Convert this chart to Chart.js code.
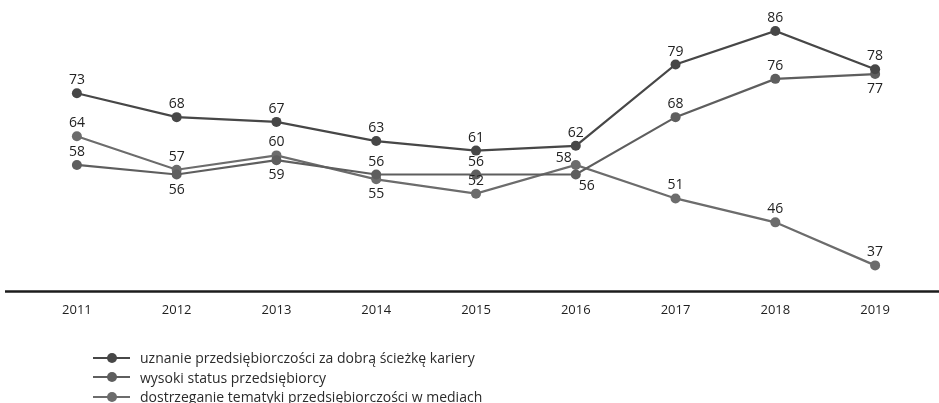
<!DOCTYPE html>
<html lang="pl">
<head>
<meta charset="utf-8">
<title>Postrzeganie przedsiębiorczości 2011–2019</title>
<script src="https://cdn.jsdelivr.net/npm/chart.js@4.4.1/dist/chart.umd.min.js"></script>
<style>
  html, body { margin: 0; padding: 0; background: #ffffff; }
  #wrap { position: relative; width: 939px; height: 403px; overflow: hidden; }
  #chart { position: absolute; left: 0; top: 0; }
  #legend { position: absolute; left: 93px; top: 348px; margin: 0; padding: 0; list-style: none;
            font-family: "Open Sans", "DejaVu Sans", sans-serif; font-size: 14px; color: #2b2b2b; }
  #legend li { height: 19.5px; line-height: 19.5px; display: flex; align-items: center; white-space: nowrap; }
  #legend .mk { position: relative; width: 37px; height: 10px; margin-right: 10px; flex: none; }
  #legend .mk i { position: absolute; left: 0; right: 0; top: 4px; height: 2px; }
  #legend .mk b { position: absolute; left: 14px; top: 0; width: 10px; height: 10px; border-radius: 50%; }
</style>
</head>
<body>
<div id="wrap">
  <canvas id="chart" width="939" height="403"></canvas>
  <ul id="legend"></ul>
</div>
<script>
// Lata badania
const years = ['2011', '2012', '2013', '2014', '2015', '2016', '2017', '2018', '2019'];

// Odsetek wskazań (%)
const careerChoice = [73, 68, 67, 63, 61, 62, 79, 86, 78];
const highStatus   = [58, 56, 59, 56, 56, 56, 68, 76, 77];
const mediaAttention = [64, 57, 60, 55, 52, 58, 51, 46, 37];

const seriesNames = [
  'uznanie przedsiębiorczości za dobrą ścieżkę kariery',
  'wysoki status przedsiębiorcy',
  'dostrzeganie tematyki przedsiębiorczości w mediach'
];

// Kolory serii
const seriesColors = ['#474747', '#5e5e5e', '#6c6c6c'];

// Położenie etykiet wartości: a = nad punktem, b = pod, l = nad z lewej, r = pod z prawej
const labelSpots = [
  ['a', 'a', 'a', 'a', 'a', 'a', 'a', 'a', 'a'],
  ['a', 'b', 'b', 'a', 'a', 'r', 'a', 'a', 'b'],
  ['a', 'a', 'a', 'b', 'a', 'l', 'a', 'a', 'a']
];

const valueLabels = {
  id: 'valueLabels',
  afterDatasetsDraw(chart) {
    const ctx = chart.ctx;
    ctx.save();
    ctx.font = '14px "Open Sans", "DejaVu Sans", sans-serif';
    ctx.fillStyle = '#222222';
    ctx.textAlign = 'center';
    ctx.textBaseline = 'middle';
    chart.data.datasets.forEach((ds, di) => {
      const meta = chart.getDatasetMeta(di);
      meta.data.forEach((pt, i) => {
        const spot = labelSpots[di][i];
        let dx = 0, dy = -13;
        if (spot === 'b') dy = 15;
        if (spot === 'l') { dx = -12; dy = -7; }
        if (spot === 'r') { dx = 11; dy = 11; }
        ctx.fillText(String(ds.data[i]), pt.x + dx, pt.y + dy);
      });
    });
    ctx.restore();
  }
};

// Pozioma linia osi kategorii na całą szerokość
const baseLine = {
  id: 'baseLine',
  beforeDatasetsDraw(chart) {
    const ctx = chart.ctx;
    const y = chart.chartArea.bottom;
    ctx.save();
    ctx.strokeStyle = '#1c1c1c';
    ctx.lineWidth = 2.5;
    ctx.beginPath();
    ctx.moveTo(5, y);
    ctx.lineTo(939, y);
    ctx.stroke();
    ctx.restore();
  }
};

const seriesValues = [careerChoice, highStatus, mediaAttention];

const chart = new Chart(document.getElementById('chart'), {
  type: 'line',
  data: {
    labels: years,
    datasets: seriesValues.map((vals, k) => ({
      label: seriesNames[k],
      data: vals,
      borderColor: seriesColors[k],
      backgroundColor: seriesColors[k],
      pointBackgroundColor: seriesColors[k],
      pointBorderWidth: 0,
      pointRadius: 5,
      borderWidth: 2.2,
      tension: 0,
      fill: false
    }))
  },
  options: {
    responsive: false,
    animation: false,
    events: [],
    layout: { padding: { left: 27, right: 14, top: 10, bottom: 74 } },
    plugins: {
      legend: { display: false },
      tooltip: { enabled: false }
    },
    scales: {
      x: {
        offset: true,
        grid: { display: false, drawTicks: false },
        border: { display: false },
        ticks: {
          padding: 11,
          color: '#1e1e1e',
          font: { family: '"Open Sans", "DejaVu Sans", sans-serif', size: 13 }
        }
      },
      y: {
        display: false,
        min: 31.56,
        max: 90.4
      }
    }
  },
  plugins: [baseLine, valueLabels]
});

// Legenda
const legend = document.getElementById('legend');
chart.data.datasets.forEach(ds => {
  const li = document.createElement('li');
  const mk = document.createElement('span');
  mk.className = 'mk';
  const ln = document.createElement('i');
  ln.style.background = ds.borderColor;
  const dot = document.createElement('b');
  dot.style.background = ds.borderColor;
  mk.appendChild(ln);
  mk.appendChild(dot);
  li.appendChild(mk);
  li.appendChild(document.createTextNode(ds.label));
  legend.appendChild(li);
});
</script>
</body>
</html>
